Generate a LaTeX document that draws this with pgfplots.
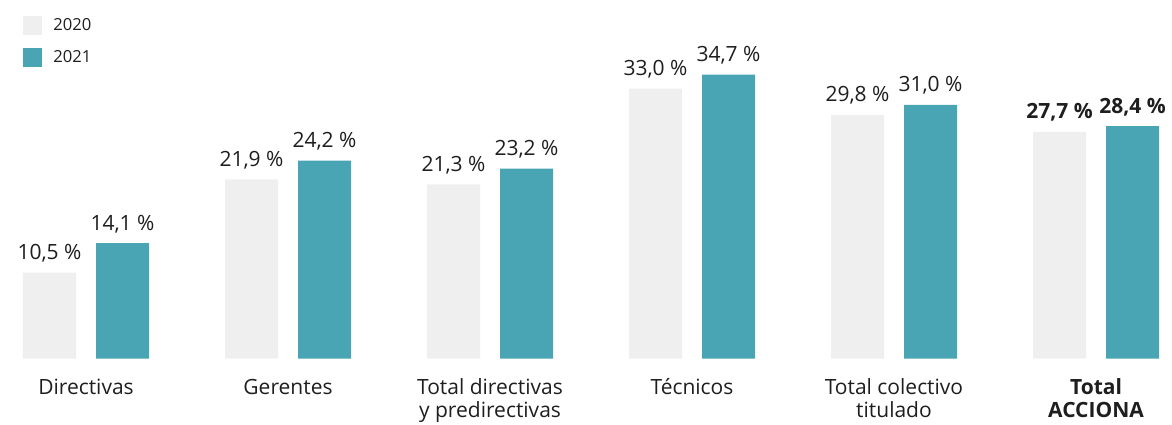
\documentclass[border=0pt]{standalone}
\usepackage{fontspec}
\setmainfont{Open Sans}
\usepackage{pgfplots}
\pgfplotsset{compat=1.18}
\definecolor{cgray}{HTML}{EFEFEF}
\definecolor{cteal}{HTML}{49A4B3}
\definecolor{ctext}{HTML}{1E1E1E}
\newcommand{\twol}[2]{\begin{tabular}[t]{@{}c@{}}#1\\#2\end{tabular}}
\begin{document}
\begin{tikzpicture}[x=1pt,y=1pt]
\useasboundingbox (0,-32.75) rectangle (586,179.25);
\begin{axis}[
 at={(0,0)}, anchor=south west,
 scale only axis, width=586pt, height=179.25pt,
 xmin=-0.42574, xmax=5.37624, ymin=0, ymax=43.83,
 ybar, bar width=26.5pt,
 axis line style={draw=none}, tick style={draw=none},
 ytick=\empty, xtick={0,1,2,3,4,5},
 xticklabels={Directivas,Gerentes,{\twol{Total directivas}{y predirectivas}},Técnicos,{\twol{Total colectivo}{titulado}},{\bfseries\twol{Total}{ACCIONA}}},
 xticklabel style={anchor=base, yshift=-13.75pt, inner sep=0pt, font=\fontsize{10.5}{11.25}\selectfont, text=ctext},
 nodes near coords, point meta=explicit symbolic,
 every node near coord/.append style={anchor=base, yshift=6.5pt, inner sep=0pt, font=\fontsize{10.5}{12}\selectfont, text=ctext},
 legend image code/.code={\fill[#1] (0pt,-4.75pt) rectangle (9.5pt,4.75pt);},
 legend style={at={(0.0196,0.9554)}, anchor=north west, draw=none, fill=none, inner sep=0pt, row sep=6.5pt, column sep=5.5pt, font=\fontsize{8.3}{9}\selectfont, text=ctext, legend cell align=left, nodes={inner sep=0pt}},
]
\addplot[fill=cgray, draw=none, bar shift=-18.25pt] coordinates {
 (0,10.5) [10,5 \%]
 (1,21.9) [21,9 \%]
 (2,21.3) [21,3 \%]
 (3,33.0) [33,0 \%]
 (4,29.8) [29,8 \%]
 (5,27.7) [\textbf{27,7 \%}]
};
\addplot[fill=cteal, draw=none, bar shift=18.25pt] coordinates {
 (0,14.1) [14,1 \%]
 (1,24.2) [24,2 \%]
 (2,23.2) [23,2 \%]
 (3,34.7) [34,7 \%]
 (4,31.0) [31,0 \%]
 (5,28.4) [\textbf{28,4 \%}]
};
\legend{2020,2021}
\end{axis}
\end{tikzpicture}
\end{document}
